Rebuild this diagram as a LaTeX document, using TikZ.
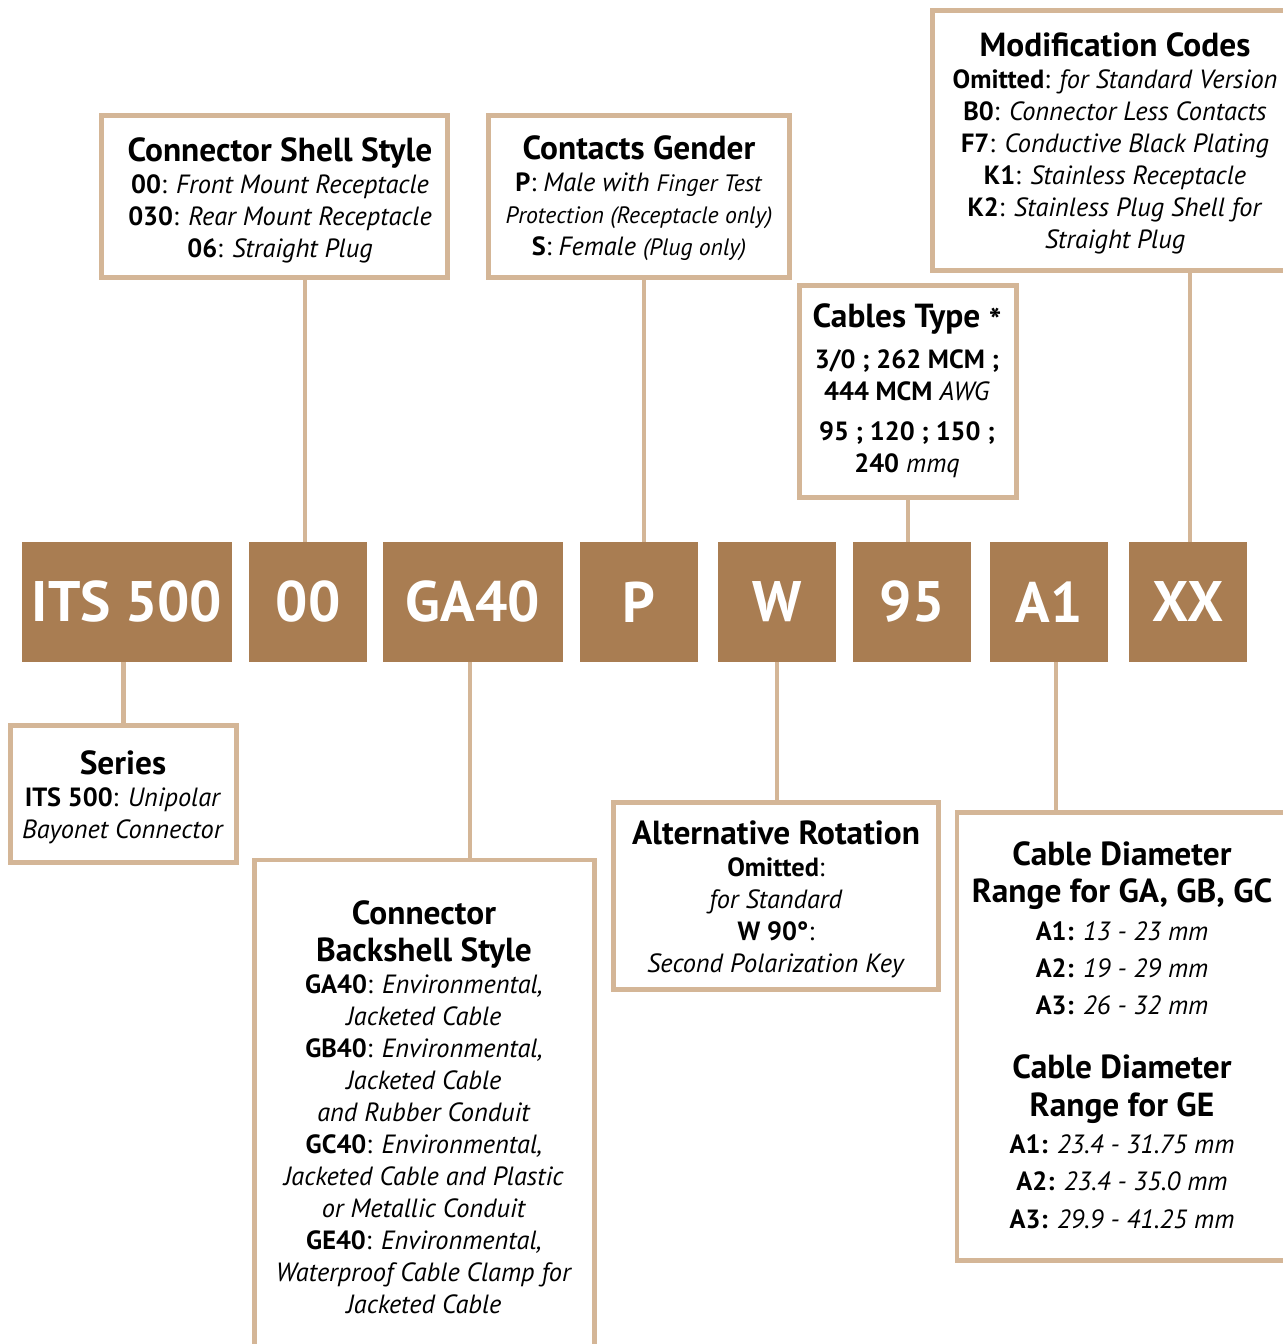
\documentclass[tikz,border=0pt]{standalone}
\usepackage{fontspec}
\setmainfont{PT Sans}
\definecolor{codetan}{RGB}{169,125,82}
\definecolor{frametan}{RGB}{212,182,151}
\newdimen\pxu \pxu=0.02cm
\newcommand{\headfont}{\fontsize{19}{21.5}\selectfont\bfseries}
\newcommand{\smallit}{\fontsize{13.5}{16}\selectfont\itshape}
\begin{document}
\begin{tikzpicture}[x=0.02cm, y=-0.02cm,
  codebox/.style={fill=codetan, text=white, minimum height=120\pxu, inner sep=0pt, font=\fontsize{32.5}{40}\selectfont\bfseries},
  descbox/.style={draw=frametan, line width=2.8pt},
  desctext/.style={align=center, anchor=north, inner sep=0pt, font=\fontsize{15}{18.2}\selectfont},
  link/.style={draw=frametan, line width=2.8pt}]
\useasboundingbox (0,0) rectangle (1282,1344);
% part number
\node[codebox, minimum width=210\pxu] (its) at (127,602) {ITS 500};
\node[codebox, minimum width=118\pxu] (c00) at (308,602) {00};
\node[codebox, minimum width=180\pxu] (ga40) at (473,602) {GA40};
\node[codebox, minimum width=118\pxu] (p) at (639,602) {P};
\node[codebox, minimum width=118\pxu] (w) at (777,602) {W};
\node[codebox, minimum width=118\pxu] (n95) at (912,602) {95};
\node[codebox, minimum width=118\pxu] (a1) at (1049,602) {A1};
\node[codebox, minimum width=118\pxu] (xx) at (1188,602) {XX};
% frames
\node[descbox, minimum width=346\pxu, minimum height=162\pxu] (shell) at (274.5,196.5) {};
\node[descbox, minimum width=301\pxu, minimum height=162\pxu] (gender) at (639,196.5) {};
\node[descbox, minimum width=362\pxu, minimum height=260\pxu] (mods) at (1113.5,140.5) {};
\node[descbox, minimum width=217\pxu, minimum height=212\pxu] (cables) at (908,391.5) {};
\node[descbox, minimum width=226\pxu, minimum height=137\pxu] (series) at (123.5,794) {};
\node[descbox, minimum width=340\pxu, minimum height=500\pxu] (backshell) at (424.5,1110) {};
\node[descbox, minimum width=325\pxu, minimum height=187\pxu] (rotation) at (776,896) {};
\node[descbox, minimum width=338\pxu, minimum height=448\pxu] (diam) at (1126,1036.5) {};
% texts
\node[desctext] (shelltxt) at (280,137) {{\headfont Connector Shell Style}\\
  \textbf{00}: \textit{Front Mount Receptacle}\\
  \textbf{030}: \textit{Rear Mount Receptacle}\\
  \textbf{06}: \textit{Straight Plug}};
\node[desctext] (gendertxt) at (639,135) {{\headfont Contacts Gender}\\
  \textbf{P}: \textit{Male with {\smallit Finger Test}}\\
  {\smallit Protection (Receptacle only)}\\
  \textbf{S}: \textit{Female {\smallit (Plug only)}}};
\node[desctext] (modstxt) at (1115,32) {{\headfont Modification Codes}\\
  \textbf{Omitted}: \textit{for Standard Version}\\
  \textbf{B0}: \textit{Connector Less Contacts}\\
  \textbf{F7}: \textit{Conductive Black Plating}\\
  \textbf{K1}: \textit{Stainless Receptacle}\\
  \textbf{K2}: \textit{Stainless Plug Shell for}\\
  \textit{Straight Plug}};
\node[desctext] (cablestxt) at (907,303) {{\headfont Cables Type \raisebox{-0.3ex}{*}}\\[5.5pt]
  \textbf{3/0 ; 262 MCM ;}\\
  \textbf{444 MCM} \textit{AWG}\\[4.5pt]
  \textbf{95 ; 120 ; 150 ;}\\
  \textbf{240} \textit{mmq}};
\node[desctext] (seriestxt) at (123,750) {{\headfont Series}\\
  \textbf{ITS 500}: \textit{Unipolar}\\
  \textit{Bayonet Connector}};
\node[desctext] (backshelltxt) at (424,900) {{\headfont Connector}\\[3pt]
  {\headfont Backshell Style}\\
  \textbf{GA40}: \textit{Environmental,}\\
  \textit{Jacketed Cable}\\
  \textbf{GB40}: \textit{Environmental,}\\
  \textit{Jacketed Cable}\\
  \textit{and Rubber Conduit}\\
  \textbf{GC40}: \textit{Environmental,}\\
  \textit{Jacketed Cable and Plastic}\\
  \textit{or Metallic Conduit}\\
  \textbf{GE40}: \textit{Environmental,}\\
  \textit{Waterproof Cable Clamp for}\\
  \textit{Jacketed Cable}};
\node[desctext] (rotationtxt) at (776,820) {{\headfont Alternative Rotation}\\
  \textbf{Omitted}:\\
  \textit{for Standard}\\
  \textbf{W 90°}:\\
  \textit{Second Polarization Key}};
\node[desctext, font=\fontsize{15}{21.3}\selectfont] (diamtxt) at (1122,841) {{\headfont Cable Diameter}\\
  {\headfont Range for GA, GB, GC}\\
  \textbf{A1:} \textit{13 - 23 mm}\\
  \textbf{A2:} \textit{19 - 29 mm}\\
  \textbf{A3:} \textit{26 - 32 mm}\\[15pt]
  {\headfont Cable Diameter}\\
  {\headfont Range for GE}\\
  \textbf{A1:} \textit{23.4 - 31.75 mm}\\
  \textbf{A2:} \textit{23.4 - 35.0 mm}\\
  \textbf{A3:} \textit{29.9 - 41.25 mm}};
% links
\draw[link] (its.south -| series.north) -- (series.north);
\draw[link] ([xshift=-3\pxu]c00.north) -- ([xshift=-3\pxu]c00.north |- shell.south);
\draw[link] ([xshift=-3\pxu]ga40.south) -- ([xshift=-3\pxu]ga40.south |- backshell.north);
\draw[link] ([xshift=5\pxu]p.north) -- ([xshift=5\pxu]p.north |- gender.south);
\draw[link] (w.south) -- (w.south |- rotation.north);
\draw[link] (n95.north -| cables.south) -- (cables.south);
\draw[link] ([xshift=7\pxu]a1.south) -- ([xshift=7\pxu]a1.south |- diam.north);
\draw[link] ([xshift=2\pxu]xx.north) -- ([xshift=2\pxu]xx.north |- mods.south);
\end{tikzpicture}
\end{document}
